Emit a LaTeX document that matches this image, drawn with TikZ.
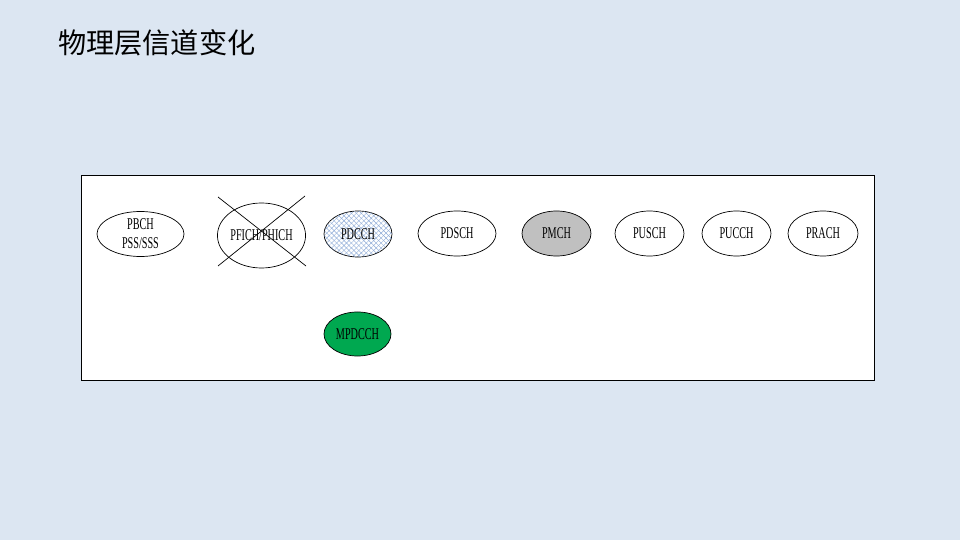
\documentclass[tikz,border=0pt]{standalone}
\usepackage{fontspec}
\usepackage{tikz}
\usetikzlibrary{shapes.geometric,patterns.meta}
\newfontfamily\cjk{Noto Sans CJK SC}
\newfontfamily\chfont[FakeStretch=0.62]{Liberation Serif}
\definecolor{bgblue}{RGB}{220,230,242}
\definecolor{mpgreen}{RGB}{0,168,80}
\definecolor{pmgray}{RGB}{192,192,192}
\definecolor{hatchblue}{RGB}{140,170,215}

\begin{document}
\begin{tikzpicture}[x=1bp,y=-1bp,
  chan/.style={ellipse,draw,semithin,inner sep=0pt,minimum height=45bp,minimum width=69bp,
    font=\chfont\fontsize{16.5}{19}\selectfont,align=center},
  hatch/.style={pattern={Lines[angle=45,distance=3.5bp,line width=0.4bp]},pattern color=hatchblue,
    postaction={pattern={Lines[angle=-45,distance=3.5bp,line width=0.4bp]},pattern color=hatchblue}},
  semithin/.style={line width=0.7bp}]

\fill[bgblue] (0,0) rectangle (960,540);
\useasboundingbox (0,0) rectangle (960,540);

\node[anchor=west,inner sep=0pt,font=\cjk\fontsize{28.3}{30}\selectfont] (title) at (58,43) {物理层信道变化};

\draw[semithin,fill=white] (81,175) rectangle (874,380);

% top row of channels
\node[chan,minimum width=87bp] (pbch) at (140.5,234) {PBCH\\PSS/SSS};
\node[chan,minimum width=87bp,minimum height=65bp] (pfich) at (261.5,235.5) {PFICH/PHICH};
\node[chan,hatch,minimum width=68bp,minimum height=46bp] (pdcch) at (358,234) {PDCCH};
\node[chan,minimum width=78bp] (pdsch) at (457,233.5) {PDSCH};
\node[chan,fill=pmgray] (pmch) at (556.5,233.5) {PMCH};
\node[chan] (pusch) at (649.5,233.5) {PUSCH};
\node[chan] (pucch) at (736.5,233.5) {PUCCH};
\node[chan,minimum width=70bp] (prach) at (823,233.5) {PRACH};

% new channel
\node[chan,fill=mpgreen,minimum width=67bp,minimum height=44bp] (mpdcch) at (357.5,334) {MPDCCH};

% removed
\draw[semithin] (218,197) -- (306,266);
\draw[semithin] (305,196) -- (218,266);
\end{tikzpicture}
\end{document}
